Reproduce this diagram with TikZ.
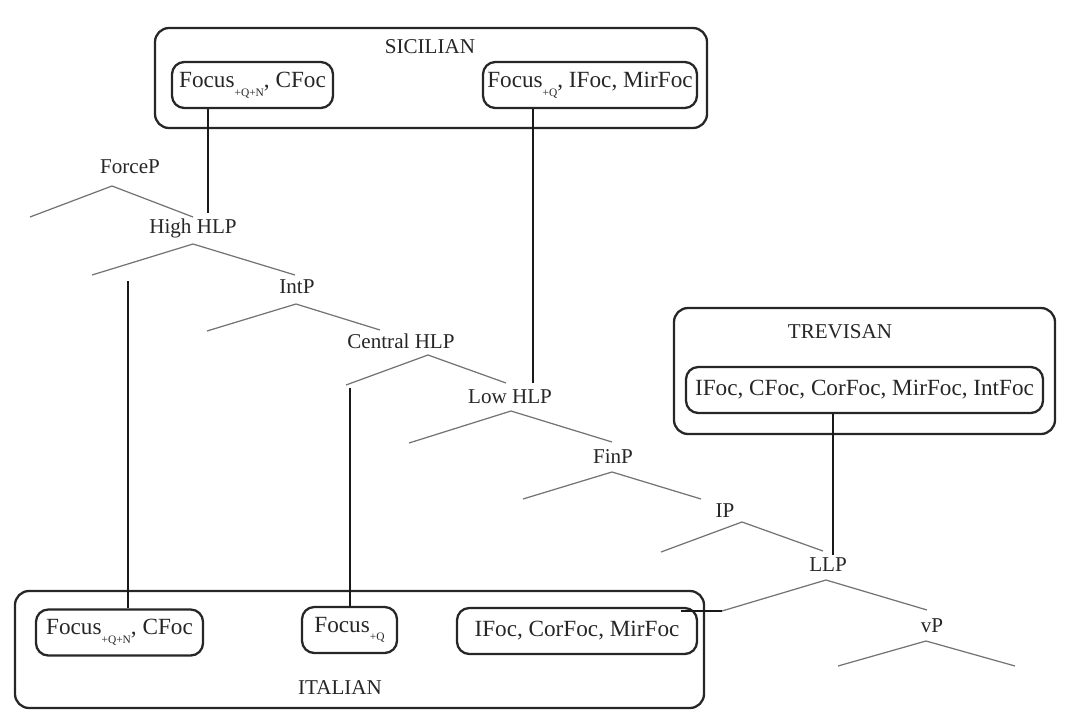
\documentclass[tikz,border=0pt]{standalone}
\usepackage{fontspec}
\setmainfont{Liberation Serif}
\usetikzlibrary{positioning}
\newcommand{\fsub}[1]{\raisebox{-0.8ex}{\fontsize{6.5}{7}\selectfont #1}}

\begin{document}
\begin{tikzpicture}[x=0.2mm,y=-0.2mm,
    lbl/.style={inner sep=1pt,text=black!85,font=\fontsize{12}{14}\selectfont},
    group/.style={draw=black!85,rounded corners=8pt,line width=1.3pt},
    feat/.style={draw=black!85,rounded corners=7pt,line width=1.3pt,minimum height=9.2mm,
        inner sep=2pt,text=black!85,font=\fontsize{13.2}{15}\selectfont},
    branch/.style={black!55,line width=0.7pt},
    link/.style={black!90,line width=1.2pt}]
    \useasboundingbox (0,0) rectangle (1066,724);

    % language boxes
    \node[group,minimum width=110.4mm,minimum height=20mm] (sic) at (431,78) {};
    \node[group,minimum width=137.8mm,minimum height=23.4mm] (ita) at (359.5,649.5) {};
    \node[group,minimum width=76.2mm,minimum height=25.2mm] (tre) at (864.5,371) {};
    \node[lbl] (sicname) at (430,47) {SICILIAN};
    \node[lbl] (itaname) at (340,688) {ITALIAN};
    \node[lbl] (trename) at (840,332) {TREVISAN};

    \node[feat,minimum width=32.2mm] (s1) at (252.5,85) {Focus\fsub{+Q+N}, CFoc};
    \node[feat,minimum width=42.8mm] (s2) at (590,85) {Focus\fsub{+Q}, IFoc, MirFoc};
    \node[feat,minimum width=33.4mm] (i1) at (119.5,632.5) {Focus\fsub{+Q+N}, CFoc};
    \node[feat,minimum width=19mm] (i2) at (349.5,630) {Focus\fsub{+Q}};
    \node[feat,minimum width=48mm] (i3) at (577,631) {IFoc, CorFoc, MirFoc};
    \node[feat,minimum width=71.4mm] (t1) at (864.5,390) {IFoc, CFoc, CorFoc, MirFoc, IntFoc};

    % tree
    \node[lbl] (forceP) at (130,167) {ForceP};
    \node[lbl] (hhlp) at (193,228) {High HLP};
    \node[lbl] (intP) at (297,287) {IntP};
    \node[lbl] (chlp) at (401,341) {Central HLP};
    \node[lbl] (lhlp) at (510,397) {Low HLP};
    \node[lbl] (finP) at (613,457) {FinP};
    \node[lbl] (ip) at (725,511) {IP};
    \node[lbl] (llp) at (828,565) {LLP};
    \node[lbl] (vp) at (932,626) {vP};

    \draw[branch] (30,217) -- (112,186) -- (193,217);
    \draw[branch] (92,275) -- (193,244) -- (295,275);
    \draw[branch] (207,331) -- (296,304) -- (380,330);
    \draw[branch] (346,385) -- (428,355) -- (506,383);
    \draw[branch] (409,443) -- (511,411) -- (612,442);
    \draw[branch] (523,499) -- (612,472) -- (701,499);
    \draw[branch] (661,552) -- (742,522) -- (823,551);
    \coordinate (llpL) at (722,611);
    \draw[branch] (llpL) -- (826,580) -- (927,610);
    \draw[branch] (838,666) -- (926,641) -- (1015,666);

    % attachment points
    \coordinate (hhTop) at (208,213);
    \coordinate (lhTop) at (533,383);
    \coordinate (hhLeft) at (128,281);
    \coordinate (chLeft) at (350,388);
    \coordinate (llpTop) at (833,555);

    \draw[link] (s1.south -| hhTop) -- (hhTop);
    \draw[link] (s2.south -| lhTop) -- (lhTop);
    \draw[link] (hhLeft) -- (hhLeft |- i1.north);
    \draw[link] (chLeft) -- (chLeft |- i2.north);
    \draw[link] (t1.south -| llpTop) -- (llpTop);
    \draw[link] ([xshift=-3.5mm]i3.east |- llpL) -- (llpL);
\end{tikzpicture}
\end{document}
